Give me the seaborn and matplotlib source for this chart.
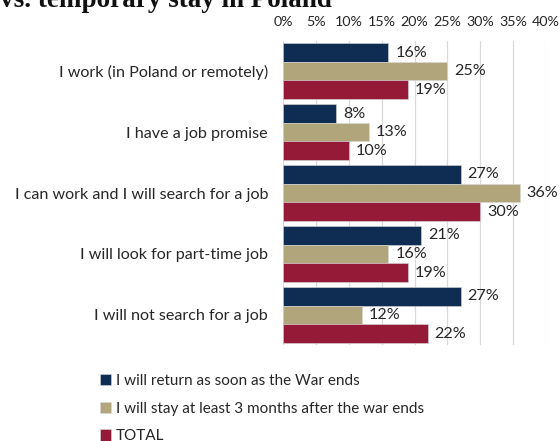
import matplotlib
matplotlib.use("Agg")
import matplotlib.pyplot as plt
import seaborn as sns
import pandas as pd
from matplotlib.ticker import FuncFormatter

categories = [
    "I work (in Poland or remotely)",
    "I have a job promise",
    "I can work and I will search for a job",
    "I will look for part-time job",
    "I will not search for a job",
]
series_names = [
    "I will return as soon as the War ends",
    "I will stay at least 3 months after the war ends",
    "TOTAL",
]
return_vals = [16, 8, 27, 21, 27]
stay_vals = [25, 13, 36, 16, 12]
total_vals = [19, 10, 30, 19, 22]
colors = ["#0f2d52", "#b1a67b", "#951a37"]
x_ticks = [0, 5, 10, 15, 20, 25, 30, 35, 40]

rows = []
for name, vals in zip(series_names, [return_vals, stay_vals, total_vals]):
    for cat, v in zip(categories, vals):
        rows.append({"category": cat, "series": name, "value": v})
df = pd.DataFrame(rows)

sns.set_theme(style="white")
plt.rcParams["font.family"] = ["Lato", "DejaVu Sans"]

fig = plt.figure(figsize=(5.6, 4.41), dpi=100)
ax = fig.add_axes([283.3 / 560, 1 - 345.4 / 441, 262.7 / 560, (345.4 - 40.7) / 441])

sns.barplot(
    data=df, x="value", y="category", hue="series", orient="h",
    palette=colors, width=0.915, gap=0, saturation=1, ax=ax,
    edgecolor="#d8d8d8", linewidth=0.4, legend=True,
)

ax.set_xlim(0, 40)
ax.set_ylim(4.5, -0.5)
ax.set_xticks(x_ticks)
ax.xaxis.set_major_formatter(FuncFormatter(lambda v, _: f"{v:.0f}%"))
ax.xaxis.tick_top()
ax.tick_params(axis="x", length=0, pad=9, labelsize=10.3, colors="#262626")
ax.tick_params(axis="y", length=0, pad=11, labelsize=11.6, colors="#262626")
ax.set_xlabel("")
ax.set_ylabel("")
for s in ax.spines.values():
    s.set_visible(False)
ax.grid(axis="x", color="#d9d9d9", linewidth=0.9)
ax.set_axisbelow(True)

for cont in ax.containers:
    ax.bar_label(cont, fmt="%.0f%%", padding=5, fontsize=11.6, color="#262626")

handles, labels = ax.get_legend_handles_labels()
ax.legend_.remove()
fig.legend(
    handles, labels, loc="upper left", bbox_to_anchor=(86 / 560, 1 - 360 / 441),
    frameon=False, handlelength=0.75, handleheight=0.75, handletextpad=0.3,
    labelspacing=0.9, fontsize=11, labelcolor="#262626",
)

fig.text(0.0, 1 - 7 / 441, "vs. temporary stay in Poland", ha="left", va="baseline",
         fontsize=19.5, fontweight="bold", family="Liberation Serif", color="#111111")

fig.savefig("out.png", dpi=100)
